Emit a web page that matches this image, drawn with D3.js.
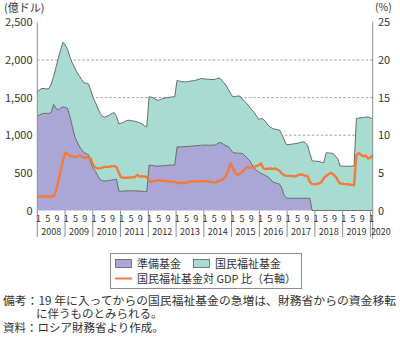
<!DOCTYPE html>
<html lang="ja">
<head>
<meta charset="utf-8">
<script src="https://cdn.jsdelivr.net/npm/d3@7"></script>
<style>
  html, body { margin: 0; padding: 0; background: #fff; }
  svg { display: block; }
  text { font-family: "Noto Sans CJK JP", "Noto Sans", sans-serif; fill: #333; }
</style>
</head>
<body>
<svg id="chart" width="400" height="339"></svg>
<script>
// Monthly values, Jan 2008 – Jan 2020 (145 months)
const years = [2008, 2009, 2010, 2011, 2012, 2013, 2014, 2015, 2016, 2017, 2018, 2019, 2020];
const monthTicks = [1, 5, 9];
const leftTicks = [0, 500, 1000, 1500, 2000, 2500];
const rightTicks = [0, 5, 10, 15, 20, 25];

// 準備基金 (億ドル)
const reserveFund = [
  1250, 1270, 1285, 1290, 1290, 1290, 1300, 1410, 1360, 1333, 1365, 1375,
  1370, 1355, 1250, 1120, 990, 920, 855, 810, 770, 755, 740, 630,
  560, 520, 460, 410, 395, 392, 395, 400, 405, 410, 415, 260,
  255, 258, 260, 262, 262, 262, 260, 260, 258, 255, 252, 250,
  603, 600, 595, 590, 590, 592, 595, 598, 600, 602, 603, 605,
  846, 846, 846, 848, 850, 852, 855, 858, 860, 862, 865, 868,
  868, 868, 868, 868, 868, 880, 904, 895, 880, 860, 850, 810,
  770, 765, 762, 760, 758, 730, 700, 670, 620, 570, 535, 515,
  493, 480, 465, 448, 420, 382, 370, 360, 351, 294, 200, 165,
  162, 162, 162, 162, 162, 162, 162, 162, 162, 162, 0, 0,
  0, 0, 0, 0, 0, 0, 0, 0, 0, 0, 0, 0,
  0, 0, 0, 0, 0, 0, 0, 0, 0, 0, 0, 0,
  0
];

// 国民福祉基金 (億ドル)
const welfareFund = [
  320, 335, 335, 330, 325, 330, 380, 370, 540, 687, 765, 860,
  830, 785, 790, 840, 910, 920, 935, 930, 930, 935, 940, 960,
  940, 910, 900, 880, 855, 848, 860, 865, 885, 890, 835, 890,
  905, 912, 930, 938, 933, 928, 925, 915, 907, 895, 873, 860,
  907, 905, 900, 880, 875, 883, 893, 897, 900, 903, 907, 905,
  884, 874, 866, 860, 860, 863, 865, 867, 870, 878, 885, 887,
  877, 876, 874, 872, 872, 870, 858, 845, 820, 805, 760, 745,
  740, 750, 758, 760, 722, 720, 720, 710, 720, 740, 725, 695,
  729, 735, 715, 686, 690, 708, 710, 715, 717, 716, 740, 710,
  713, 718, 723, 728, 733, 743, 751, 738, 708, 598, 660, 657,
  655, 650, 640, 634, 767, 765, 762, 758, 720, 692, 590, 590,
  588, 588, 588, 590, 592, 1222, 1228, 1232, 1236, 1240, 1244, 1230,
  1220
];

// 国民福祉基金対 GDP 比 (%)
const gdpRatio = [
  1.85, 1.85, 1.85, 1.85, 1.85, 1.85, 1.85, 1.85, 2.6, 3.9, 5.2, 6.5,
  7.7, 7.5, 7.3, 7.2, 7.1, 7.2, 7.3, 7.2, 7.0, 7.1, 7.0, 6.9,
  6.0, 5.7, 5.6, 5.6, 5.7, 5.8, 5.8, 5.8, 5.9, 5.9, 5.8, 5.0,
  4.4, 4.35, 4.35, 4.35, 4.4, 4.4, 4.45, 4.75, 4.5, 4.55, 4.5, 4.5,
  3.85, 3.8, 3.9, 4.0, 4.0, 3.95, 4.0, 3.9, 3.9, 3.8, 3.85, 3.8,
  3.7, 3.65, 3.65, 3.65, 3.7, 3.8, 3.85, 3.85, 3.85, 3.9, 3.9, 3.9,
  3.9, 3.85, 3.8, 3.8, 3.7, 3.8, 3.95, 4.0, 4.2, 4.6, 5.3, 6.25,
  5.6, 5.0, 4.7, 4.9, 5.1, 5.5, 5.8, 5.7, 5.7, 5.8, 5.9, 6.0,
  6.25, 5.6, 5.5, 5.55, 5.6, 5.5, 5.6, 5.45, 5.3, 4.9, 4.7, 4.6,
  4.6, 4.6, 4.55, 4.55, 4.7, 4.8, 4.75, 4.6, 4.6, 3.8, 3.5, 3.5,
  3.5, 3.6, 3.8, 4.3, 4.6, 4.8, 5.0, 4.8, 4.55, 4.0, 3.6, 3.55,
  3.5, 3.5, 3.45, 3.4, 3.35, 7.35, 7.6, 7.4, 7.2, 7.3, 6.9, 7.0,
  7.35
];

const seriesNames = ["準備基金", "国民福祉基金"];
const lineName = "国民福祉基金対 GDP 比（右軸）";
const colors = { reserve: "#aaa6d6", welfare: "#a8dcd1", ratio: "#f47a3a" };

const rows = reserveFund.map((r, i) => ({ i, reserve: r, welfare: welfareFund[i], ratio: gdpRatio[i] }));
const nMonths = rows.length;

const svg = d3.select("#chart");
const L = 37.3, R = 372.7, T = 22.3, B = 210.5;

// month bands (for separators / tick labels) and data positions
const xBand = d3.scaleLinear().domain([0, nMonths]).range([L, R]);
const x = d3.scaleLinear().domain([0, nMonths - 1]).range([L, R]);
const yL = d3.scaleLinear().domain([0, 2500]).range([B, T]);
const yR = d3.scaleLinear().domain([0, 25]).range([B, T]);

// dashed gridlines
svg.append("g").selectAll("line")
  .data(leftTicks.filter(v => v > 0 && v < 2500))
  .join("line")
  .attr("x1", L).attr("x2", R)
  .attr("y1", d => yL(d)).attr("y2", d => yL(d))
  .attr("stroke", "#8a8a8a").attr("stroke-width", 0.8)
  .attr("stroke-dasharray", "2.5,2");

// stacked areas
const stack = d3.stack().keys(["reserve", "welfare"]);
const layers = stack(rows);
const area = d3.area().x(d => x(d.data.i)).y0(d => yL(d[0])).y1(d => yL(d[1]));
const topLine = d3.line().x(d => x(d.data.i)).y(d => yL(d[1]));

svg.append("g").selectAll("path.area")
  .data(layers).join("path")
  .attr("class", "area")
  .attr("d", area)
  .attr("fill", d => colors[d.key]);

svg.append("g").selectAll("path.edge")
  .data(layers).join("path")
  .attr("class", "edge")
  .attr("d", topLine)
  .attr("fill", "none")
  .attr("stroke", "#5c5c5c")
  .attr("stroke-width", 0.9);

// GDP ratio line (right axis)
svg.append("path")
  .datum(rows)
  .attr("d", d3.line().x(d => x(d.i)).y(d => yR(d.ratio)))
  .attr("fill", "none")
  .attr("stroke", colors.ratio)
  .attr("stroke-width", 2.4)
  .attr("stroke-linejoin", "round");

// axis frame lines
const axisColor = "#8c8c8c";
svg.append("line").attr("x1", L).attr("x2", L).attr("y1", T).attr("y2", 237)
  .attr("stroke", axisColor).attr("stroke-width", 1);
svg.append("line").attr("x1", R).attr("x2", R).attr("y1", T).attr("y2", 239)
  .attr("stroke", axisColor).attr("stroke-width", 1);

// year separators under the plot
svg.append("g").selectAll("line")
  .data(years.map((y, k) => k * 12).filter(m => m > 0 && m < nMonths))
  .join("line")
  .attr("x1", d => xBand(d)).attr("x2", d => xBand(d))
  .attr("y1", B).attr("y2", 237)
  .attr("stroke", axisColor).attr("stroke-width", 1);

// left axis labels
const fmt = d3.format(",");
svg.append("g").selectAll("text")
  .data(leftTicks).join("text")
  .attr("x", 32.5).attr("y", d => yL(d) + 4)
  .attr("text-anchor", "end")
  .attr("font-size", 11)
  .text(d => fmt(d));
svg.append("text").attr("x", 4).attr("y", 11.5).attr("font-size", 11).text("(億ドル)");

// right axis labels
svg.append("g").selectAll("text")
  .data(rightTicks).join("text")
  .attr("x", 378).attr("y", d => yR(d) + 4)
  .attr("font-size", 11)
  .text(d => d);
svg.append("text").attr("x", 375).attr("y", 10.5).attr("font-size", 10.5).text("(%)");

// month tick labels
const monthLabels = [];
years.forEach((yr, k) => {
  monthTicks.forEach(m => {
    const idx = k * 12 + (m - 1);
    if (idx < nMonths) monthLabels.push({ idx, m });
  });
});
svg.append("g").selectAll("text")
  .data(monthLabels).join("text")
  .attr("x", d => xBand(d.idx + 0.5))
  .attr("y", 221.5)
  .attr("text-anchor", "middle")
  .attr("font-size", 9)
  .text(d => d.m);

// year labels
svg.append("g").selectAll("text")
  .data(years).join("text")
  .attr("x", (d, k) => {
    const s = xBand(k * 12), e = xBand(Math.min((k + 1) * 12, nMonths));
    return e - s > 24 ? (s + e) / 2 : s + 0.5;
  })
  .attr("y", 235)
  .attr("text-anchor", (d, k) => ((k + 1) * 12 <= nMonths ? "middle" : "start"))
  .attr("font-size", 9)
  .text(d => d);

// legend
const lg = svg.append("g");
lg.append("rect").attr("x", 110.5).attr("y", 253.5).attr("width", 191).attr("height", 35)
  .attr("fill", "#fff").attr("stroke", "#8c8c8c").attr("stroke-width", 1);
const swatches = [
  { name: seriesNames[0], color: colors.reserve, x: 115.5 },
  { name: seriesNames[1], color: colors.welfare, x: 193.5 }
];
swatches.forEach(s => {
  lg.append("rect").attr("x", s.x).attr("y", 259.5).attr("width", 16).attr("height", 8)
    .attr("fill", s.color).attr("stroke", "#5c5c5c").attr("stroke-width", 0.8);
  lg.append("text").attr("x", s.x + 21.5).attr("y", 267.5).attr("font-size", 11).text(s.name);
});
lg.append("line").attr("x1", 115).attr("x2", 132).attr("y1", 278.5).attr("y2", 278.5)
  .attr("stroke", colors.ratio).attr("stroke-width", 2);
lg.append("text").attr("x", 137).attr("y", 282.5).attr("font-size", 11).text(lineName);

// notes
const notes = [
  { x: 3, y: 304.5, t: "備考：19 年に入ってからの国民福祉基金の急増は、財務省からの資金移転", len: 393 },
  { x: 36, y: 318, t: "に伴うものとみられる。" },
  { x: 3, y: 331.5, t: "資料：ロシア財務省より作成。" }
];
notes.forEach(n => {
  const t = svg.append("text").attr("x", n.x).attr("y", n.y).attr("font-size", 11.5).text(n.t);
  if (n.len) t.attr("textLength", n.len).attr("lengthAdjust", "spacingAndGlyphs");
});
</script>
</body>
</html>
